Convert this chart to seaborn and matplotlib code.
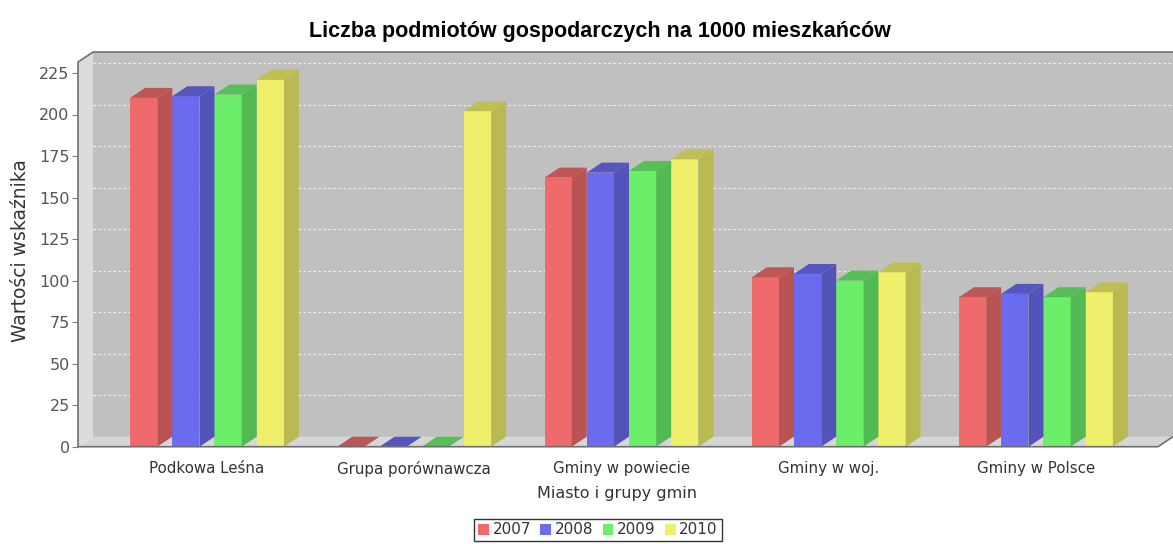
import numpy as np
import pandas as pd
import matplotlib
matplotlib.use('Agg')
import matplotlib.pyplot as plt
from matplotlib.patches import Polygon, Patch
from matplotlib.colors import to_rgb
import seaborn as sns

# ---- dane ----
categories = ['Podkowa Leśna', 'Grupa porównawcza', 'Gminy w powiecie',
              'Gminy w woj.', 'Gminy w Polsce']
years = ['2007', '2008', '2009', '2010']
v2007 = [210, 0, 162, 102, 90]
v2008 = [211, 0, 165, 104, 92]
v2009 = [212, 0, 166, 100, 90]
v2010 = [221, 202, 173, 105, 93]
yticks = list(range(0, 226, 25))

front_colors = ['#EF6B6B', '#6B6BEF', '#6BEF6B', '#EFEF6B']

df = pd.DataFrame({
    'kategoria': categories * 4,
    'rok': [y for y in years for _ in categories],
    'wartosc': v2007 + v2008 + v2009 + v2010,
})

sns.set_style('white')
plt.rcParams['font.family'] = ['DejaVu Sans']

W, H = 1173, 544
fig = plt.figure(figsize=(W / 100, H / 100), dpi=100)

# obszar "przedni" wykresu w pikselach
left_px, right_px, top_px, bot_px = 78, 1158, 62, 446.7
ax = fig.add_axes([left_px / W, (H - bot_px) / H,
                   (right_px - left_px) / W, (bot_px - top_px) / H])
ax.patch.set_visible(False)

sns.barplot(data=df, x='kategoria', y='wartosc', hue='rok', palette=front_colors,
            width=0.815, gap=0.355, saturation=1, errorbar=None, legend=False,
            linewidth=0, edgecolor='none', ax=ax, zorder=3)

x0, x1 = -0.6224, 4.589
y0, y1 = 0, (bot_px - top_px) / 1.661
ax.set_xlim(x0, x1)
ax.set_ylim(y0, y1)

# efekt 3D - przesuniecie w pikselach
dx, dy = 15, 10
ddx = dx * (x1 - x0) / (right_px - left_px)
ddy = dy * (y1 - y0) / (bot_px - top_px)

# tylna sciana, lewa sciana, podloga
ax.add_patch(Polygon([(x0 + ddx, y0 + ddy), (x1 + ddx, y0 + ddy), (x1 + ddx, y1 + ddy),
                      (x0 + ddx, y1 + ddy)], closed=True, fc='#C0C0C0', ec='none',
                     zorder=0, clip_on=False))
ax.add_patch(Polygon([(x0, y0), (x0, y1), (x0 + ddx, y1 + ddy), (x0 + ddx, y0 + ddy)],
                     closed=True, fc='#DCDCDC', ec='none', zorder=0.5, clip_on=False))
ax.add_patch(Polygon([(x0, y0), (x1, y0), (x1 + ddx, y0 + ddy), (x0 + ddx, y0 + ddy)],
                     closed=True, fc='#D6D6D6', ec='none', zorder=0.5, clip_on=False))

# linie siatki na tylnej scianie
ax.hlines([t + ddy for t in yticks[1:]], x0 + ddx, x1 + ddx, colors='#EEEEEE',
          linestyles=(0, (2, 2)), linewidth=0.9, zorder=1, clip_on=False)

# obrys
ax.plot([x0, x0, x0 + ddx, x1 + ddx], [y0, y1, y1 + ddy, y1 + ddy], color='#6E6E6E',
        lw=1.2, zorder=4, clip_on=False)
ax.plot([x0, x1, x1 + ddx], [y0, y0, y0 + ddy], color='#6E6E6E', lw=1.2,
        zorder=4, clip_on=False)

# boki i gory slupkow
for bar in list(ax.patches):
    if bar.get_zorder() != 3:
        continue
    bx, bw, bh = bar.get_x(), bar.get_width(), bar.get_height()
    r, g, b = to_rgb(bar.get_facecolor())
    side = (r * 0.78, g * 0.78, b * 0.78)
    top = (r * 0.8, g * 0.8, b * 0.8)
    ax.add_patch(Polygon([(bx + bw, 0), (bx + bw, bh), (bx + bw + ddx, bh + ddy),
                          (bx + bw + ddx, ddy)], closed=True, fc=side, ec='none',
                         zorder=3.1, clip_on=False))
    ax.add_patch(Polygon([(bx, bh), (bx + bw, bh), (bx + bw + ddx, bh + ddy),
                          (bx + ddx, bh + ddy)], closed=True, fc=top, ec='none',
                         zorder=3.1, clip_on=False))

for s in ax.spines.values():
    s.set_visible(False)

ax.set_yticks(yticks)
ax.tick_params(axis='y', direction='out', length=4, width=0.8, color='#808080',
               labelcolor='#555555', labelsize=11.5, pad=2, left=True)
ax.tick_params(axis='x', length=0, labelcolor='#333333', labelsize=10.8, pad=10)

ax.set_ylabel('Wartości wskaźnika', fontsize=13.5, color='#333333')
ax.yaxis.set_label_coords((30 - left_px) / (right_px - left_px), 0.51)
ax.set_xlabel('Miasto i grupy gmin', fontsize=11.5, color='#333333')
ax.xaxis.set_label_coords((617 - left_px) / (right_px - left_px),
                          -(486 - bot_px) / (bot_px - top_px))

fig.text(600 / W, 1 - 32 / H, 'Liczba podmiotów gospodarczych na 1000 mieszkańców',
         ha='center', va='center', fontsize=15.5, fontweight='bold',
         family=['Liberation Sans', 'DejaVu Sans'], color='black')

handles = [Patch(facecolor=c, edgecolor='none') for c in front_colors]
leg = fig.legend(handles, years, loc='center', bbox_to_anchor=(598 / W, 1 - 530 / H),
                 ncol=4, frameon=True, fancybox=False, edgecolor='black',
                 handlelength=0.7, handleheight=0.7, handletextpad=0.25,
                 columnspacing=0.6, borderpad=0.25, fontsize=11)
leg.get_frame().set_linewidth(1)
for t in leg.get_texts():
    t.set_color('#333333')

fig.savefig('out.png', dpi=100, facecolor='white')
